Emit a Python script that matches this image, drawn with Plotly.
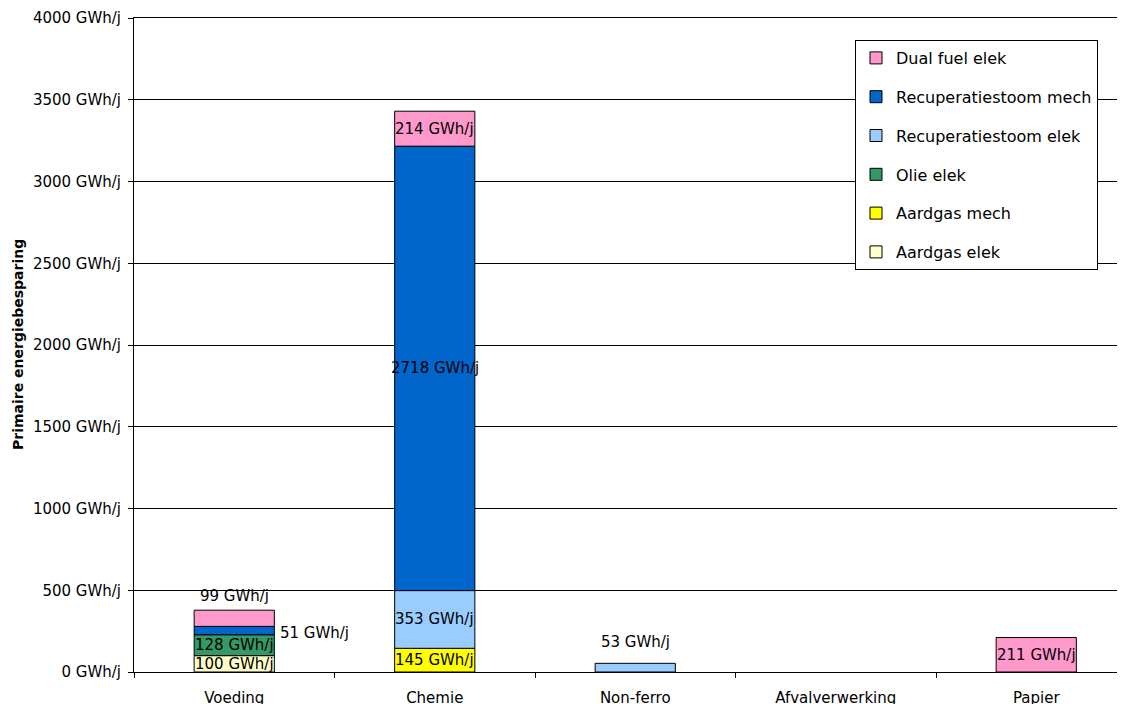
import plotly.graph_objects as go

categories = ["Voeding", "Chemie", "Non-ferro", "Afvalverwerking", "Papier"]
series_names = ["Aardgas elek", "Aardgas mech", "Olie elek",
                "Recuperatiestoom elek", "Recuperatiestoom mech", "Dual fuel elek"]
aardgas_elek = [100, 0, 0, 0, 0]
aardgas_mech = [0, 145, 0, 0, 0]
olie_elek = [128, 0, 0, 0, 0]
recup_elek = [0, 353, 53, 0, 0]
recup_mech = [51, 2718, 0, 0, 0]
dual_fuel_elek = [99, 214, 0, 0, 211]
colors = ["#FFFFCC", "#FFFF00", "#339966", "#99CCFF", "#0066CC", "#FF99CC"]
y_ticks = [0, 500, 1000, 1500, 2000, 2500, 3000, 3500, 4000]
y_tick_text = [f"{v} GWh/j" for v in y_ticks]

series_values = [aardgas_elek, aardgas_mech, olie_elek, recup_elek, recup_mech, dual_fuel_elek]

# label placement per (series, category): default inside
placement = {(4, 0): "right", (5, 0): "above", (3, 2): "above"}
above_shift = {(5, 0): 14, (3, 2): 21}

FONT = "DejaVu Sans, sans-serif"
BAR_W = 0.4
LBL = 15

fig = go.Figure()
annotations = []
cum = [0] * len(categories)
n = len(series_names)
for si, (name, vals, col) in enumerate(zip(series_names, series_values, colors)):
    fig.add_trace(go.Bar(
        name=name, x=categories, y=[v if v else None for v in vals], base=cum[:],
        marker=dict(color=col, line=dict(color="black", width=1)),
        width=BAR_W, legendgroup=name, legendrank=n - si, showlegend=True,
    ))
    for ci, v in enumerate(vals):
        if v <= 0:
            continue
        mode = placement.get((si, ci), "inside")
        text = f"{v} GWh/j"
        if mode == "inside":
            annotations.append(dict(x=ci, y=cum[ci] + v / 2, xref="x", yref="y",
                                    text=text, showarrow=False,
                                    font=dict(family=FONT, size=LBL, color="black")))
        elif mode == "right":
            annotations.append(dict(x=ci + BAR_W / 2, y=cum[ci] + v / 2, xref="x", yref="y",
                                    text=text, showarrow=False, xanchor="left", xshift=4,
                                    yshift=-2,
                                    font=dict(family=FONT, size=LBL, color="black")))
        else:
            total = sum(s[ci] for s in series_values)
            annotations.append(dict(x=ci, y=total, xref="x", yref="y",
                                    text=text, showarrow=False, yanchor="middle",
                                    yshift=above_shift[(si, ci)],
                                    font=dict(family=FONT, size=LBL, color="black")))
    cum = [c + v for c, v in zip(cum, vals)]

FIG_W = 1133
PW = FIG_W - 126.0
PH = 654.0
annotations.append(dict(x=(18 - 134) / PW, y=0.5, xref="paper", yref="paper",
                        xanchor="center", yanchor="middle",
                        text="<b>Primaire energiebesparing</b>", textangle=-90,
                        showarrow=False,
                        font=dict(family=FONT, size=14, color="black")))

fig.update_layout(
    barmode="overlay",
    width=FIG_W, height=704,
    margin=dict(l=126, r=0, t=10, b=40, autoexpand=False),
    paper_bgcolor="white", plot_bgcolor="white",
    font=dict(family=FONT, size=15, color="black"),
    annotations=annotations,
    legend=dict(
        x=(855 - 134) / PW, y=(672 - 40) / PH, xanchor="left", yanchor="top",
        traceorder="grouped", tracegroupgap=15,
        bordercolor="black", borderwidth=1, bgcolor="white",
        font=dict(family=FONT, size=16, color="black"),
    ),
    xaxis=dict(
        type="category", range=[-0.5, -0.5 + PW / 200.5],
        tickson="boundaries", ticks="outside", ticklen=5, tickcolor="black",
        showline=True, linecolor="black", linewidth=1, mirror=True,
        showgrid=False, tickfont=dict(family=FONT, size=15),
        ticklabelstandoff=12,
    ),
    yaxis=dict(
        range=[0, 4000], tickvals=y_ticks, ticktext=y_tick_text,
        ticks="outside", ticklen=5, tickcolor="black",
        showline=True, linecolor="black", linewidth=1,
        showgrid=True, gridcolor="black", gridwidth=1,
        zeroline=False, tickfont=dict(family=FONT, size=15),
        ticklabelstandoff=4,
    ),
)

fig.write_html("out.html")
